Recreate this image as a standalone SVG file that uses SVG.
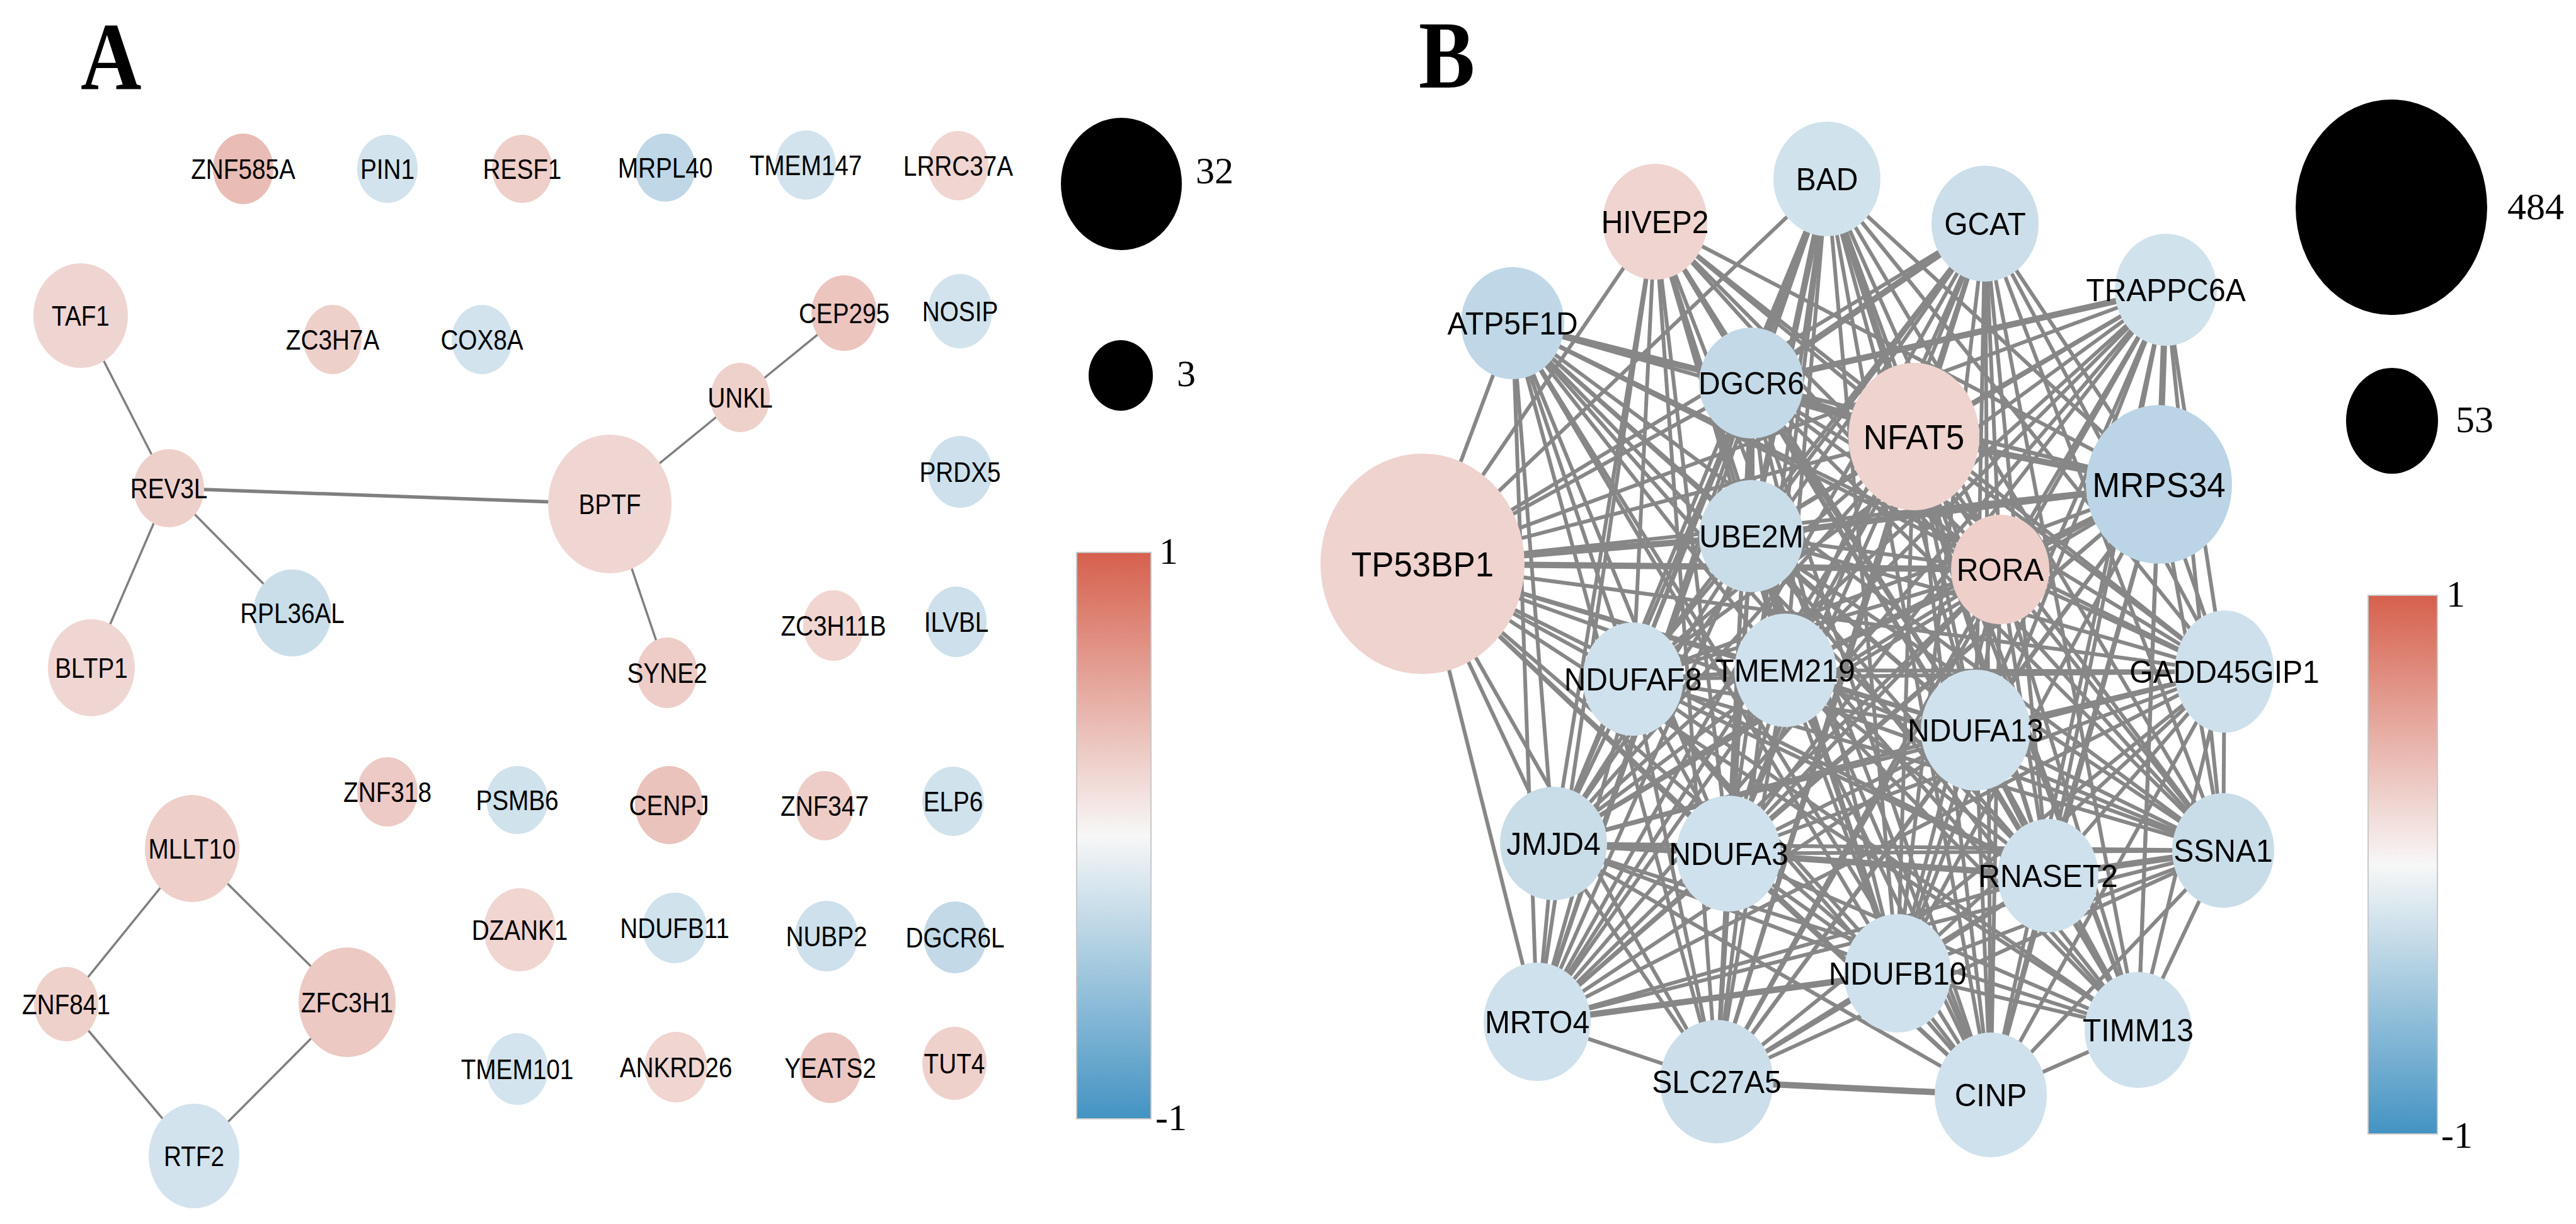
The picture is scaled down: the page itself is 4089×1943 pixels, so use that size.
<svg xmlns="http://www.w3.org/2000/svg" width="4089" height="1943" viewBox="0 0 4089 1943">
<defs>
<linearGradient id="cbar" x1="0" y1="0" x2="0" y2="1">
<stop offset="0" stop-color="#d6604d"/>
<stop offset="0.5" stop-color="#f7f7f7"/>
<stop offset="1" stop-color="#4393c3"/>
</linearGradient>
<style>
.la{font-family:"Liberation Sans",Arial,sans-serif;font-size:44px;text-anchor:middle;fill:#000}
.lb{font-family:"Liberation Sans",Arial,sans-serif;font-size:50px;text-anchor:middle;fill:#000}
.lb.big{font-size:55px}
.num{font-family:"Liberation Serif","Times New Roman",serif;font-size:60px;fill:#000}
.panel{font-family:"Liberation Serif","Times New Roman",serif;font-size:152px;font-weight:bold;fill:#000}
.ea path{stroke:#7f7f7f;stroke-width:3.5;fill:none}
.ea path.t{stroke-width:5.5}
.eb path{stroke:#878787;stroke-width:6;fill:none}
.eb path.t{stroke-width:10}
.cb{fill:url(#cbar);stroke:#c8c8c8;stroke-width:2}
</style>
</defs>
<rect width="4089" height="1943" fill="#fff"/>

<text class="panel" transform="translate(128,141) scale(0.88,1)">A</text>
<text class="panel" transform="translate(2252,139) scale(0.88,1)">B</text>

<g id="connectors">
<g id="edges-a" class="ea">
<path d="M128 501L268 775"/>
<path class="t" d="M268 775L968 800"/>
<path d="M268 775L145 1060"/>
<path d="M268 775L464 973"/>
<path d="M968 800L1175 631"/>
<path d="M1175 631L1340 497"/>
<path d="M968 800L1059 1068"/>
<path d="M305 1347L105 1594"/>
<path d="M305 1347L551 1591"/>
<path d="M105 1594L308 1835"/>
<path d="M551 1591L308 1835"/>
</g>
<g id="edges-b" class="eb">
<path d="M2900 284L2780 608"/><path d="M2900 284L3038 693"/><path d="M2900 284L3427 769"/><path class="t" d="M2900 284L2780 851"/><path d="M2900 284L3175 904"/><path d="M2900 284L2258 895"/><path d="M2900 284L2592 1078"/><path d="M2900 284L2834 1064"/><path d="M2900 284L3531 1066"/><path d="M2900 284L3136 1159"/><path d="M2900 284L2466 1339"/><path d="M2900 284L2744 1355"/><path d="M2900 284L3251 1390"/><path d="M2900 284L3529 1350"/><path d="M2900 284L3012 1545"/><path d="M2900 284L2440 1622"/><path d="M2900 284L3394 1635"/><path d="M2900 284L2725 1717"/><path d="M2900 284L3160 1738"/>
<path d="M2627 352L2780 608"/><path d="M2627 352L3038 693"/><path d="M2627 352L3427 769"/><path d="M2627 352L2780 851"/><path d="M2627 352L3175 904"/><path d="M2627 352L2258 895"/><path d="M2627 352L2592 1078"/><path d="M2627 352L2834 1064"/><path d="M2627 352L3531 1066"/><path d="M2627 352L3136 1159"/><path d="M2627 352L2466 1339"/><path d="M2627 352L2744 1355"/><path d="M2627 352L3251 1390"/><path d="M2627 352L3529 1350"/><path d="M2627 352L3012 1545"/><path d="M2627 352L2440 1622"/><path d="M2627 352L3394 1635"/><path d="M2627 352L2725 1717"/><path d="M2627 352L3160 1738"/>
<path class="t" d="M3151 355L2780 608"/><path d="M3151 355L3038 693"/><path d="M3151 355L3427 769"/><path d="M3151 355L2780 851"/><path d="M3151 355L3175 904"/><path d="M3151 355L2258 895"/><path d="M3151 355L2592 1078"/><path d="M3151 355L2834 1064"/><path d="M3151 355L3531 1066"/><path d="M3151 355L3136 1159"/><path d="M3151 355L2466 1339"/><path d="M3151 355L2744 1355"/><path d="M3151 355L3251 1390"/><path d="M3151 355L3529 1350"/><path d="M3151 355L3012 1545"/><path d="M3151 355L2440 1622"/><path d="M3151 355L3394 1635"/><path d="M3151 355L2725 1717"/><path d="M3151 355L3160 1738"/>
<path class="t" d="M3438 460L2780 608"/><path d="M3438 460L3038 693"/><path class="t" d="M3438 460L3427 769"/><path d="M3438 460L2780 851"/><path d="M3438 460L3175 904"/><path d="M3438 460L2258 895"/><path d="M3438 460L2592 1078"/><path d="M3438 460L2834 1064"/><path d="M3438 460L3531 1066"/><path d="M3438 460L3136 1159"/><path d="M3438 460L2466 1339"/><path d="M3438 460L2744 1355"/><path d="M3438 460L3251 1390"/><path d="M3438 460L3529 1350"/><path d="M3438 460L3012 1545"/><path d="M3438 460L2440 1622"/><path d="M3438 460L3394 1635"/><path d="M3438 460L2725 1717"/><path d="M3438 460L3160 1738"/>
<path class="t" d="M2401 513L2780 608"/><path d="M2401 513L3038 693"/><path d="M2401 513L3427 769"/><path d="M2401 513L2780 851"/><path d="M2401 513L3175 904"/><path d="M2401 513L2258 895"/><path d="M2401 513L2592 1078"/><path d="M2401 513L2834 1064"/><path d="M2401 513L3531 1066"/><path d="M2401 513L3136 1159"/><path d="M2401 513L2466 1339"/><path d="M2401 513L2744 1355"/><path d="M2401 513L3251 1390"/><path d="M2401 513L3529 1350"/><path d="M2401 513L3012 1545"/><path d="M2401 513L2440 1622"/><path d="M2401 513L3394 1635"/><path d="M2401 513L2725 1717"/><path d="M2401 513L3160 1738"/>
<path class="t" d="M2780 608L3038 693"/><path d="M2780 608L3427 769"/><path class="t" d="M2780 608L2780 851"/><path d="M2780 608L3175 904"/><path d="M2780 608L2258 895"/><path d="M2780 608L2592 1078"/><path d="M2780 608L2834 1064"/><path d="M2780 608L3531 1066"/><path d="M2780 608L3136 1159"/><path d="M2780 608L2466 1339"/><path d="M2780 608L2744 1355"/><path d="M2780 608L3251 1390"/><path d="M2780 608L3529 1350"/><path d="M2780 608L3012 1545"/><path d="M2780 608L2440 1622"/><path d="M2780 608L3394 1635"/><path d="M2780 608L2725 1717"/><path d="M2780 608L3160 1738"/>
<path class="t" d="M3038 693L3427 769"/><path d="M3038 693L2780 851"/><path d="M3038 693L3175 904"/><path d="M3038 693L2258 895"/><path d="M3038 693L2592 1078"/><path d="M3038 693L2834 1064"/><path d="M3038 693L3531 1066"/><path d="M3038 693L3136 1159"/><path d="M3038 693L2466 1339"/><path d="M3038 693L2744 1355"/><path d="M3038 693L3251 1390"/><path d="M3038 693L3529 1350"/><path d="M3038 693L3012 1545"/><path d="M3038 693L2440 1622"/><path d="M3038 693L3394 1635"/><path d="M3038 693L2725 1717"/><path d="M3038 693L3160 1738"/>
<path class="t" d="M3427 769L2780 851"/><path d="M3427 769L3175 904"/><path d="M3427 769L2258 895"/><path d="M3427 769L2592 1078"/><path d="M3427 769L2834 1064"/><path d="M3427 769L3531 1066"/><path d="M3427 769L3136 1159"/><path d="M3427 769L2466 1339"/><path d="M3427 769L2744 1355"/><path d="M3427 769L3251 1390"/><path d="M3427 769L3529 1350"/><path d="M3427 769L3012 1545"/><path d="M3427 769L2440 1622"/><path d="M3427 769L3394 1635"/><path d="M3427 769L2725 1717"/><path d="M3427 769L3160 1738"/>
<path d="M2780 851L3175 904"/><path class="t" d="M2780 851L2258 895"/><path d="M2780 851L2592 1078"/><path d="M2780 851L2834 1064"/><path d="M2780 851L3531 1066"/><path d="M2780 851L3136 1159"/><path d="M2780 851L2466 1339"/><path d="M2780 851L2744 1355"/><path d="M2780 851L3251 1390"/><path d="M2780 851L3529 1350"/><path d="M2780 851L3012 1545"/><path d="M2780 851L2440 1622"/><path d="M2780 851L3394 1635"/><path d="M2780 851L2725 1717"/><path d="M2780 851L3160 1738"/>
<path class="t" d="M3175 904L2258 895"/><path d="M3175 904L2592 1078"/><path d="M3175 904L2834 1064"/><path d="M3175 904L3531 1066"/><path d="M3175 904L3136 1159"/><path d="M3175 904L2466 1339"/><path d="M3175 904L2744 1355"/><path d="M3175 904L3251 1390"/><path d="M3175 904L3529 1350"/><path d="M3175 904L3012 1545"/><path d="M3175 904L2440 1622"/><path d="M3175 904L3394 1635"/><path d="M3175 904L2725 1717"/><path d="M3175 904L3160 1738"/>
<path d="M2258 895L2592 1078"/><path d="M2258 895L2834 1064"/><path d="M2258 895L3531 1066"/><path d="M2258 895L3136 1159"/><path d="M2258 895L2466 1339"/><path d="M2258 895L2744 1355"/><path d="M2258 895L3251 1390"/><path d="M2258 895L3529 1350"/><path d="M2258 895L3012 1545"/><path d="M2258 895L2440 1622"/><path d="M2258 895L3394 1635"/><path d="M2258 895L2725 1717"/><path d="M2258 895L3160 1738"/>
<path d="M2592 1078L2834 1064"/><path d="M2592 1078L3531 1066"/><path d="M2592 1078L3136 1159"/><path d="M2592 1078L2466 1339"/><path d="M2592 1078L2744 1355"/><path d="M2592 1078L3251 1390"/><path d="M2592 1078L3529 1350"/><path d="M2592 1078L3012 1545"/><path d="M2592 1078L2440 1622"/><path d="M2592 1078L3394 1635"/><path d="M2592 1078L2725 1717"/><path d="M2592 1078L3160 1738"/>
<path d="M2834 1064L3531 1066"/><path d="M2834 1064L3136 1159"/><path d="M2834 1064L2466 1339"/><path d="M2834 1064L2744 1355"/><path d="M2834 1064L3251 1390"/><path d="M2834 1064L3529 1350"/><path d="M2834 1064L3012 1545"/><path d="M2834 1064L2440 1622"/><path d="M2834 1064L3394 1635"/><path d="M2834 1064L2725 1717"/><path d="M2834 1064L3160 1738"/>
<path d="M3531 1066L3136 1159"/><path d="M3531 1066L2466 1339"/><path d="M3531 1066L2744 1355"/><path d="M3531 1066L3251 1390"/><path d="M3531 1066L3529 1350"/><path d="M3531 1066L3012 1545"/><path d="M3531 1066L2440 1622"/><path d="M3531 1066L3394 1635"/><path d="M3531 1066L2725 1717"/><path d="M3531 1066L3160 1738"/>
<path d="M3136 1159L2466 1339"/><path d="M3136 1159L2744 1355"/><path d="M3136 1159L3251 1390"/><path d="M3136 1159L3529 1350"/><path d="M3136 1159L3012 1545"/><path d="M3136 1159L2440 1622"/><path d="M3136 1159L3394 1635"/><path d="M3136 1159L2725 1717"/><path d="M3136 1159L3160 1738"/>
<path class="t" d="M2466 1339L2744 1355"/><path d="M2466 1339L3251 1390"/><path d="M2466 1339L3529 1350"/><path d="M2466 1339L3012 1545"/><path d="M2466 1339L2440 1622"/><path d="M2466 1339L3394 1635"/><path d="M2466 1339L2725 1717"/><path d="M2466 1339L3160 1738"/>
<path class="t" d="M2744 1355L3251 1390"/><path d="M2744 1355L3529 1350"/><path d="M2744 1355L3012 1545"/><path d="M2744 1355L2440 1622"/><path d="M2744 1355L3394 1635"/><path d="M2744 1355L2725 1717"/><path d="M2744 1355L3160 1738"/>
<path class="t" d="M3251 1390L3529 1350"/><path d="M3251 1390L3012 1545"/><path d="M3251 1390L2440 1622"/><path d="M3251 1390L3394 1635"/><path d="M3251 1390L2725 1717"/><path d="M3251 1390L3160 1738"/>
<path d="M3529 1350L3012 1545"/><path d="M3529 1350L2440 1622"/><path d="M3529 1350L3394 1635"/><path d="M3529 1350L2725 1717"/><path d="M3529 1350L3160 1738"/>
<path class="t" d="M3012 1545L2440 1622"/><path d="M3012 1545L3394 1635"/><path d="M3012 1545L2725 1717"/><path d="M3012 1545L3160 1738"/>
<path d="M2440 1622L2725 1717"/>
<path d="M3394 1635L3160 1738"/>
<path class="t" d="M2725 1717L3160 1738"/>
</g>
</g>

<g id="nodes-a">
<g id="a-ZNF585A"><ellipse cx="386" cy="268" rx="48" ry="56" fill="#e9bdb5"/><text class="la" transform="translate(386,268) scale(0.88,1)" y="16">ZNF585A</text></g>
<g id="a-PIN1"><ellipse cx="615" cy="268" rx="48" ry="54" fill="#d2e3ed"/><text class="la" transform="translate(615,268) scale(0.88,1)" y="16">PIN1</text></g>
<g id="a-RESF1"><ellipse cx="829" cy="268" rx="48" ry="54" fill="#efcfca"/><text class="la" transform="translate(829,268) scale(0.88,1)" y="16">RESF1</text></g>
<g id="a-MRPL40"><ellipse cx="1056" cy="266" rx="48" ry="54" fill="#bfd7e6"/><text class="la" transform="translate(1056,266) scale(0.88,1)" y="16">MRPL40</text></g>
<g id="a-TMEM147"><ellipse cx="1279" cy="262" rx="48" ry="55" fill="#d3e3ee"/><text class="la" transform="translate(1279,262) scale(0.88,1)" y="16">TMEM147</text></g>
<g id="a-LRRC37A"><ellipse cx="1521" cy="263" rx="48" ry="55" fill="#f0d5d1"/><text class="la" transform="translate(1521,263) scale(0.88,1)" y="16">LRRC37A</text></g>
<g id="a-TAF1"><ellipse cx="128" cy="501" rx="75" ry="83" fill="#efd5d2"/><text class="la" transform="translate(128,501) scale(0.88,1)" y="16">TAF1</text></g>
<g id="a-ZC3H7A"><ellipse cx="528" cy="539" rx="46" ry="55" fill="#eed0cb"/><text class="la" transform="translate(528,539) scale(0.88,1)" y="16">ZC3H7A</text></g>
<g id="a-COX8A"><ellipse cx="765" cy="539" rx="48" ry="55" fill="#d2e3ed"/><text class="la" transform="translate(765,539) scale(0.88,1)" y="16">COX8A</text></g>
<g id="a-CEP295"><ellipse cx="1340" cy="497" rx="52" ry="60" fill="#ecc5bf"/><text class="la" transform="translate(1340,497) scale(0.88,1)" y="16">CEP295</text></g>
<g id="a-NOSIP"><ellipse cx="1524" cy="494" rx="51" ry="59" fill="#d2e3ed"/><text class="la" transform="translate(1524,494) scale(0.88,1)" y="16">NOSIP</text></g>
<g id="a-UNKL"><ellipse cx="1175" cy="631" rx="47" ry="55" fill="#efd1cc"/><text class="la" transform="translate(1175,631) scale(0.88,1)" y="16">UNKL</text></g>
<g id="a-REV3L"><ellipse cx="268" cy="775" rx="56" ry="62" fill="#eed0cb"/><text class="la" transform="translate(268,775) scale(0.88,1)" y="16">REV3L</text></g>
<g id="a-BPTF"><ellipse cx="968" cy="800" rx="98" ry="110" fill="#f0d6d3"/><text class="la" transform="translate(968,800) scale(0.88,1)" y="16">BPTF</text></g>
<g id="a-PRDX5"><ellipse cx="1524" cy="749" rx="51" ry="57" fill="#cde0eb"/><text class="la" transform="translate(1524,749) scale(0.88,1)" y="16">PRDX5</text></g>
<g id="a-RPL36AL"><ellipse cx="464" cy="973" rx="62" ry="69" fill="#cadee9"/><text class="la" transform="translate(464,973) scale(0.88,1)" y="16">RPL36AL</text></g>
<g id="a-BLTP1"><ellipse cx="145" cy="1060" rx="69" ry="77" fill="#f0d6d3"/><text class="la" transform="translate(145,1060) scale(0.88,1)" y="16">BLTP1</text></g>
<g id="a-SYNE2"><ellipse cx="1059" cy="1068" rx="48" ry="56" fill="#eecdc8"/><text class="la" transform="translate(1059,1068) scale(0.88,1)" y="16">SYNE2</text></g>
<g id="a-ZC3H11B"><ellipse cx="1323" cy="993" rx="48" ry="56" fill="#f0d5d1"/><text class="la" transform="translate(1323,993) scale(0.88,1)" y="16">ZC3H11B</text></g>
<g id="a-ILVBL"><ellipse cx="1518" cy="987" rx="48" ry="56" fill="#cde0eb"/><text class="la" transform="translate(1518,987) scale(0.88,1)" y="16">ILVBL</text></g>
<g id="a-ZNF318"><ellipse cx="615" cy="1257" rx="48" ry="55" fill="#edcac5"/><text class="la" transform="translate(615,1257) scale(0.88,1)" y="16">ZNF318</text></g>
<g id="a-PSMB6"><ellipse cx="821" cy="1270" rx="49" ry="54" fill="#d0e2ec"/><text class="la" transform="translate(821,1270) scale(0.88,1)" y="16">PSMB6</text></g>
<g id="a-CENPJ"><ellipse cx="1062" cy="1278" rx="54" ry="62" fill="#eac3bd"/><text class="la" transform="translate(1062,1278) scale(0.88,1)" y="16">CENPJ</text></g>
<g id="a-ZNF347"><ellipse cx="1309" cy="1279" rx="46" ry="55" fill="#eecdc8"/><text class="la" transform="translate(1309,1279) scale(0.88,1)" y="16">ZNF347</text></g>
<g id="a-ELP6"><ellipse cx="1513" cy="1272" rx="49" ry="55" fill="#d0e2ec"/><text class="la" transform="translate(1513,1272) scale(0.88,1)" y="16">ELP6</text></g>
<g id="a-MLLT10"><ellipse cx="305" cy="1347" rx="75" ry="85" fill="#eecfca"/><text class="la" transform="translate(305,1347) scale(0.88,1)" y="16">MLLT10</text></g>
<g id="a-ZFC3H1"><ellipse cx="551" cy="1591" rx="77" ry="87" fill="#ecc9c3"/><text class="la" transform="translate(551,1591) scale(0.88,1)" y="16">ZFC3H1</text></g>
<g id="a-ZNF841"><ellipse cx="105" cy="1594" rx="51" ry="59" fill="#efd1cc"/><text class="la" transform="translate(105,1594) scale(0.88,1)" y="16">ZNF841</text></g>
<g id="a-RTF2"><ellipse cx="308" cy="1835" rx="72" ry="83" fill="#d2e3ed"/><text class="la" transform="translate(308,1835) scale(0.88,1)" y="16">RTF2</text></g>
<g id="a-DZANK1"><ellipse cx="825" cy="1476" rx="57" ry="66" fill="#f0d5d1"/><text class="la" transform="translate(825,1476) scale(0.88,1)" y="16">DZANK1</text></g>
<g id="a-NDUFB11"><ellipse cx="1071" cy="1473" rx="51" ry="56" fill="#d0e2ec"/><text class="la" transform="translate(1071,1473) scale(0.88,1)" y="16">NDUFB11</text></g>
<g id="a-NUBP2"><ellipse cx="1312" cy="1486" rx="50" ry="56" fill="#cde0eb"/><text class="la" transform="translate(1312,1486) scale(0.88,1)" y="16">NUBP2</text></g>
<g id="a-DGCR6L"><ellipse cx="1516" cy="1488" rx="50" ry="57" fill="#c3d9e7"/><text class="la" transform="translate(1516,1488) scale(0.88,1)" y="16">DGCR6L</text></g>
<g id="a-TMEM101"><ellipse cx="821" cy="1697" rx="49" ry="57" fill="#d3e4ee"/><text class="la" transform="translate(821,1697) scale(0.88,1)" y="16">TMEM101</text></g>
<g id="a-ANKRD26"><ellipse cx="1073" cy="1694" rx="50" ry="56" fill="#f0d5d1"/><text class="la" transform="translate(1073,1694) scale(0.88,1)" y="16">ANKRD26</text></g>
<g id="a-YEATS2"><ellipse cx="1318" cy="1695" rx="49" ry="56" fill="#ecc7c1"/><text class="la" transform="translate(1318,1695) scale(0.88,1)" y="16">YEATS2</text></g>
<g id="a-TUT4"><ellipse cx="1515" cy="1688" rx="51" ry="58" fill="#efd1cc"/><text class="la" transform="translate(1515,1688) scale(0.88,1)" y="16">TUT4</text></g>
</g>

<g id="legend-a">
<ellipse cx="1780" cy="292" rx="96" ry="105" fill="#000"/>
<text class="num" x="1898" y="291">32</text>
<ellipse cx="1779" cy="596" rx="51" ry="56" fill="#000"/>
<text class="num" x="1868" y="613">3</text>
<rect class="cb" x="1709" y="877" width="118" height="899"/>
<text class="num" x="1840" y="895">1</text>
<text class="num" x="1834" y="1794">-1</text>
</g>

<g id="nodes-b">
<g id="b-BAD"><ellipse cx="2900" cy="284" rx="85" ry="91" fill="#d0e2ec"/><text class="lb" transform="translate(2900,284) scale(0.96,1)" y="18">BAD</text></g>
<g id="b-HIVEP2"><ellipse cx="2627" cy="352" rx="83" ry="92" fill="#efd4d0"/><text class="lb" transform="translate(2627,352) scale(0.96,1)" y="18">HIVEP2</text></g>
<g id="b-GCAT"><ellipse cx="3151" cy="355" rx="85" ry="92" fill="#cbdeea"/><text class="lb" transform="translate(3151,355) scale(0.96,1)" y="18">GCAT</text></g>
<g id="b-TRAPPC6A"><ellipse cx="3438" cy="460" rx="81" ry="89" fill="#d0e2ec"/><text class="lb" transform="translate(3438,460) scale(0.96,1)" y="18">TRAPPC6A</text></g>
<g id="b-ATP5F1D"><ellipse cx="2401" cy="513" rx="82" ry="89" fill="#bfd7e6"/><text class="lb" transform="translate(2401,513) scale(0.96,1)" y="18">ATP5F1D</text></g>
<g id="b-DGCR6"><ellipse cx="2780" cy="608" rx="83" ry="88" fill="#c3d9e7"/><text class="lb" transform="translate(2780,608) scale(0.96,1)" y="18">DGCR6</text></g>
<g id="b-NFAT5"><ellipse cx="3038" cy="693" rx="104" ry="117" fill="#efd3ce"/><text class="lb big" transform="translate(3038,693) scale(0.96,1)" y="20">NFAT5</text></g>
<g id="b-MRPS34"><ellipse cx="3427" cy="769" rx="116" ry="126" fill="#bbd5e6"/><text class="lb big" transform="translate(3427,769) scale(0.96,1)" y="20">MRPS34</text></g>
<g id="b-UBE2M"><ellipse cx="2780" cy="851" rx="83" ry="89" fill="#c9dde9"/><text class="lb" transform="translate(2780,851) scale(0.96,1)" y="18">UBE2M</text></g>
<g id="b-RORA"><ellipse cx="3175" cy="904" rx="78" ry="87" fill="#eecfca"/><text class="lb" transform="translate(3175,904) scale(0.96,1)" y="18">RORA</text></g>
<g id="b-TP53BP1"><ellipse cx="2258" cy="895" rx="162" ry="175" fill="#efd3cf"/><text class="lb big" transform="translate(2258,895) scale(0.96,1)" y="20">TP53BP1</text></g>
<g id="b-NDUFAF8"><ellipse cx="2592" cy="1078" rx="80" ry="90" fill="#cfe1ec"/><text class="lb" transform="translate(2592,1078) scale(0.96,1)" y="18">NDUFAF8</text></g>
<g id="b-TMEM219"><ellipse cx="2834" cy="1064" rx="81" ry="90" fill="#cfe1ec"/><text class="lb" transform="translate(2834,1064) scale(0.96,1)" y="18">TMEM219</text></g>
<g id="b-GADD45GIP1"><ellipse cx="3531" cy="1066" rx="79" ry="97" fill="#cee0eb"/><text class="lb" transform="translate(3531,1066) scale(0.96,1)" y="18">GADD45GIP1</text></g>
<g id="b-NDUFA13"><ellipse cx="3136" cy="1159" rx="87" ry="96" fill="#cfe1ec"/><text class="lb" transform="translate(3136,1159) scale(0.96,1)" y="18">NDUFA13</text></g>
<g id="b-JMJD4"><ellipse cx="2466" cy="1339" rx="85" ry="90" fill="#c9dde9"/><text class="lb" transform="translate(2466,1339) scale(0.96,1)" y="18">JMJD4</text></g>
<g id="b-NDUFA3"><ellipse cx="2744" cy="1355" rx="83" ry="92" fill="#cfe1ec"/><text class="lb" transform="translate(2744,1355) scale(0.96,1)" y="18">NDUFA3</text></g>
<g id="b-RNASET2"><ellipse cx="3251" cy="1390" rx="80" ry="90" fill="#cfe1ec"/><text class="lb" transform="translate(3251,1390) scale(0.96,1)" y="18">RNASET2</text></g>
<g id="b-SSNA1"><ellipse cx="3529" cy="1350" rx="81" ry="91" fill="#c9dde9"/><text class="lb" transform="translate(3529,1350) scale(0.96,1)" y="18">SSNA1</text></g>
<g id="b-NDUFB10"><ellipse cx="3012" cy="1545" rx="85" ry="94" fill="#cfe1ec"/><text class="lb" transform="translate(3012,1545) scale(0.96,1)" y="18">NDUFB10</text></g>
<g id="b-MRTO4"><ellipse cx="2440" cy="1622" rx="85" ry="94" fill="#cfe1ec"/><text class="lb" transform="translate(2440,1622) scale(0.96,1)" y="18">MRTO4</text></g>
<g id="b-TIMM13"><ellipse cx="3394" cy="1635" rx="85" ry="92" fill="#cfe1ec"/><text class="lb" transform="translate(3394,1635) scale(0.96,1)" y="18">TIMM13</text></g>
<g id="b-SLC27A5"><ellipse cx="2725" cy="1717" rx="90" ry="98" fill="#cbdeea"/><text class="lb" transform="translate(2725,1717) scale(0.96,1)" y="18">SLC27A5</text></g>
<g id="b-CINP"><ellipse cx="3160" cy="1738" rx="89" ry="99" fill="#cfe1ec"/><text class="lb" transform="translate(3160,1738) scale(0.96,1)" y="18">CINP</text></g>
</g>

<g id="legend-b">
<ellipse cx="3796" cy="329" rx="152" ry="171" fill="#000"/>
<text class="num" x="3980" y="348">484</text>
<ellipse cx="3797" cy="668" rx="73" ry="84" fill="#000"/>
<text class="num" x="3898" y="686">53</text>
<rect class="cb" x="3759" y="945" width="110" height="855"/>
<text class="num" x="3883" y="963">1</text>
<text class="num" x="3875" y="1822">-1</text>
</g>
</svg>
